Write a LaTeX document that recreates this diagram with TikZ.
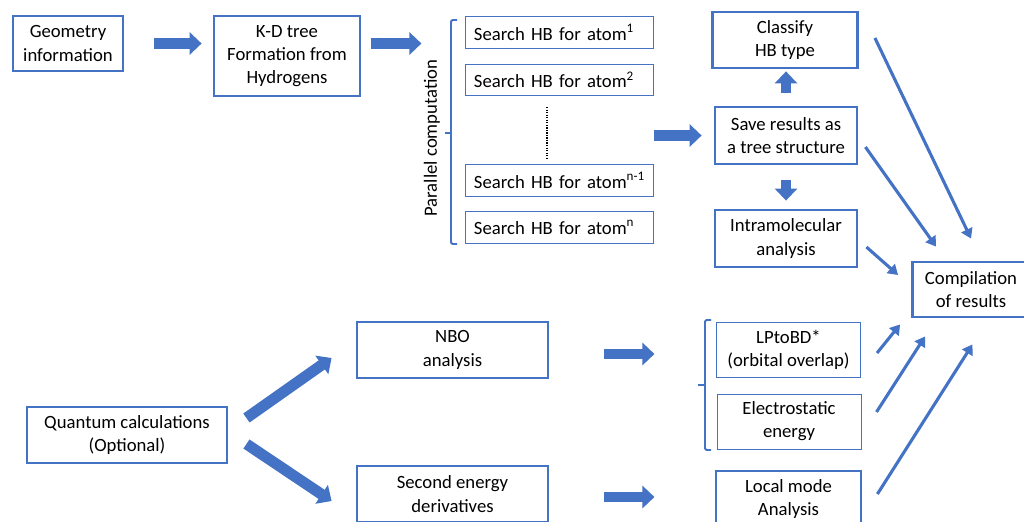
\documentclass[tikz,border=0pt]{standalone}
\usepackage{fontspec}
\setmainfont{Carlito}
\usepackage{tikz}
\usepackage{xcolor}
\usetikzlibrary{arrows.meta,positioning,calc}
\definecolor{hbblue}{RGB}{68,114,196}
\tikzset{
  thickbox/.style={draw=hbblue,line width=2pt,align=center,inner sep=2pt},
  thinbox/.style={draw=hbblue,line width=0.7pt,align=center,inner sep=2pt},
  searchbox/.style={draw=hbblue,line width=0.7pt,align=left,inner xsep=0.2cm,inner ysep=0pt,
    text width=4.275cm,minimum height=0.79cm},
  bigarrow/.style={hbblue,line width=7.8pt,-{Triangle[length=8.5pt,width=15.6pt]}},
  linkarrow/.style={hbblue,line width=2.2pt,-{Triangle[length=7pt,width=8.5pt]}},
  bracket/.style={hbblue,line width=1.4pt,rounded corners=1pt},
}

\begin{document}
\begin{tikzpicture}[x=0.025cm,y=-0.025cm,every node/.style={font=\fontsize{13.3}{16.5}\selectfont}]
\useasboundingbox (0,0) rectangle (1024,521);

% hydrogen bond search
\node[thickbox,minimum width=2.75cm,minimum height=1.375cm] (geo) at (68,43.5) {Geometry\\information};
\node[thickbox,minimum width=3.65cm,minimum height=2.0cm] (kd) at (287,56) {K-D tree\\Formation from\\Hydrogens};
\node[searchbox] (s1) at (559.5,32.5) {Search HB for atom\textsuperscript{1}};
\node[searchbox] (s2) at (559.5,80) {Search HB for atom\textsuperscript{2}};
\node[searchbox] (s3) at (559.5,180.5) {Search HB for atom\textsuperscript{n-1}};
\node[searchbox] (s4) at (559.5,227.5) {Search HB for atom\textsuperscript{n}};
\node[rotate=90] (par) at (432,138) {Parallel computation};
\node[thickbox,minimum width=3.625cm,minimum height=1.4cm] (classify) at (785,40) {Classify\\HB type};
\node[thickbox,minimum width=3.55cm,minimum height=1.425cm] (save) at (786,135.5) {Save results as\\a tree structure};
\node[thickbox,minimum width=3.55cm,minimum height=1.425cm] (intra) at (786,238.5) {Intramolecular\\analysis};
\node[thickbox,minimum width=2.925cm,minimum height=1.375cm] (compile) at (971,289.5) {Compilation\\of results};

\draw[bracket] (457,20) -- (451,20) -- (451,244) -- (457,244);
\draw[bracket] (451,133) -- (445,133);
\draw[line width=0.9pt,dash pattern=on 0.9pt off 0.9pt] (547,107) -- (547,158);

\draw[bigarrow,shorten <=21.3pt,shorten >=7.8pt] (geo.east) -- (geo.east -| kd.west);
\draw[bigarrow] ($(kd.east |- geo.east)+(10,0)$) -- ++(50,0);
\draw[bigarrow,shorten >=8.5pt] (save.west -| s1.east) -- (save.west);
\draw[bigarrow,shorten <=9.2pt,shorten >=1.4pt] (save.north) -- (save.north |- classify.south);
\draw[bigarrow,shorten <=10.6pt,shorten >=5.7pt] (save.south) -- (intra.north);

% quantum part
\node[thickbox,minimum width=5.0cm,minimum height=1.4cm] (quantum) at (127,435) {Quantum calculations\\(Optional)};
\node[thickbox,minimum width=4.775cm,minimum height=1.4cm] (nbo) at (452.5,350) {NBO\\analysis};
\node[thickbox,minimum width=4.775cm,minimum height=1.4cm] (second) at (452.5,494) {Second energy\\derivatives};
\node[thinbox,minimum width=3.6cm,minimum height=1.375cm] (lp) at (788.5,349.5) {LPtoBD*\\(orbital overlap)};
\node[thinbox,minimum width=3.6cm,minimum height=1.375cm] (elec) at (789,421.5) {Electrostatic\\energy};
\node[thickbox,minimum width=3.625cm,minimum height=1.4cm] (local) at (788.5,499) {Local mode\\Analysis};

\draw[bracket] (711,320) -- (705,320) -- (705,450) -- (711,450);
\draw[bracket] (705,385) -- (698,385);

\draw[bigarrow] ($(quantum.east)+(18,-17)$) -- ($(nbo.west)+(-24,8)$);
\draw[bigarrow] ($(quantum.east)+(18,9)$) -- ($(second.west)+(-24,7)$);
\draw[bigarrow] ($(nbo.east)+(55,4)$) -- ++(50,0);
\draw[bigarrow] ($(second.east)+(55,3)$) -- ++(50,0);

% everything goes to the compilation
\draw[linkarrow] ($(classify.east)+(16,-2)$) -- ($(compile.north)+(0,-22)$);
\draw[linkarrow] ($(save.east)+(7,11.5)$) -- ($(compile.north west)+(25,-14)$);
\draw[linkarrow] ($(intra.east)+(8,8.5)$) -- ($(compile.west)+(-13,-14.5)$);
\draw[linkarrow] ($(lp.east)+(16,3.5)$) -- ($(compile.south west)+(-11,6)$);
\draw[linkarrow] ($(elec.east)+(15,-9.5)$) -- ($(compile.south west)+(14,18)$);
\draw[linkarrow] ($(local.east)+(15,-5)$) -- ($(compile.south)+(1.5,26)$);
\end{tikzpicture}
\end{document}
